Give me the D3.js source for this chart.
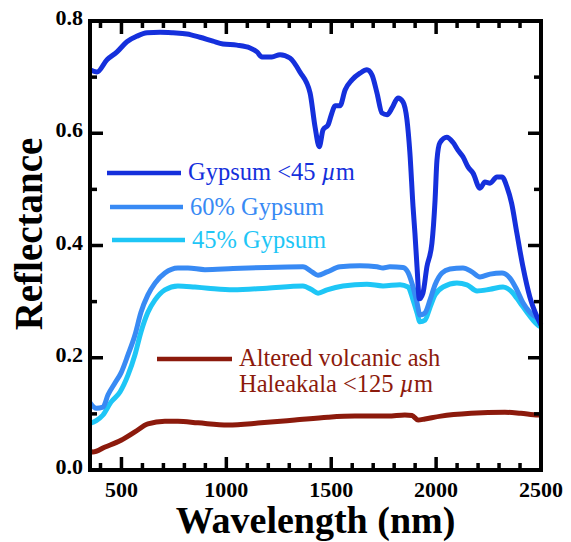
<!DOCTYPE html>
<html>
<head>
<meta charset="utf-8">
<script src="https://cdn.jsdelivr.net/npm/d3@7"></script>
<style>
  body { margin: 0; background: #fff; }
  svg { display: block; }
  text { font-family: "Liberation Serif", "Times New Roman", serif; }
</style>
</head>
<body>
<div id="chart"></div>
<script>
// Reflectance spectra (wavelength in nm)
const gypsumWl = [350, 383, 431, 479, 526, 574, 622, 684, 746, 812, 874, 936, 984, 1050, 1113, 1146, 1170, 1217, 1256, 1303, 1351, 1399, 1423, 1443, 1461, 1485, 1503, 1518, 1542, 1566, 1599, 1637, 1670, 1694, 1718, 1742, 1766, 1790, 1818, 1842, 1861, 1875, 1890, 1899, 1909, 1920, 1937, 1956, 1980, 1995, 2004, 2018, 2051, 2080, 2104, 2128, 2152, 2176, 2209, 2233, 2257, 2290, 2314, 2338, 2360, 2385, 2414, 2447, 2481, 2500];
const gypsumR = [0.713, 0.709, 0.731, 0.745, 0.763, 0.773, 0.779, 0.780, 0.779, 0.777, 0.771, 0.764, 0.759, 0.757, 0.752, 0.745, 0.736, 0.736, 0.740, 0.734, 0.709, 0.672, 0.611, 0.576, 0.606, 0.615, 0.636, 0.649, 0.649, 0.677, 0.695, 0.707, 0.713, 0.704, 0.672, 0.636, 0.633, 0.645, 0.663, 0.656, 0.624, 0.565, 0.469, 0.422, 0.362, 0.305, 0.315, 0.362, 0.404, 0.481, 0.552, 0.583, 0.593, 0.584, 0.570, 0.558, 0.540, 0.529, 0.502, 0.513, 0.511, 0.522, 0.522, 0.504, 0.475, 0.422, 0.362, 0.308, 0.273, 0.258];

const g60Wl = [350, 380, 412, 436, 469, 498, 531, 564, 593, 626, 660, 707, 769, 817, 898, 1032, 1193, 1365, 1408, 1437, 1480, 1542, 1637, 1718, 1747, 1780, 1842, 1866, 1890, 1909, 1923, 1947, 1971, 1995, 2028, 2066, 2128, 2171, 2209, 2257, 2314, 2352, 2385, 2414, 2447, 2481, 2500];
const g60R = [0.120, 0.110, 0.112, 0.134, 0.155, 0.173, 0.205, 0.240, 0.281, 0.312, 0.333, 0.351, 0.360, 0.360, 0.357, 0.359, 0.361, 0.362, 0.353, 0.347, 0.353, 0.362, 0.364, 0.362, 0.360, 0.362, 0.361, 0.352, 0.326, 0.298, 0.276, 0.280, 0.303, 0.330, 0.351, 0.358, 0.360, 0.353, 0.344, 0.349, 0.351, 0.342, 0.321, 0.298, 0.281, 0.271, 0.265];

const g45Wl = [350, 380, 412, 450, 493, 531, 564, 593, 626, 660, 707, 769, 850, 912, 1032, 1193, 1365, 1408, 1437, 1480, 1556, 1670, 1747, 1828, 1866, 1890, 1909, 1923, 1947, 1971, 1995, 2033, 2099, 2147, 2195, 2257, 2319, 2362, 2400, 2433, 2462, 2486, 2500];
const g45R = [0.083, 0.088, 0.098, 0.121, 0.139, 0.169, 0.205, 0.246, 0.281, 0.303, 0.321, 0.328, 0.326, 0.324, 0.321, 0.324, 0.328, 0.321, 0.315, 0.321, 0.328, 0.331, 0.328, 0.330, 0.326, 0.303, 0.280, 0.264, 0.267, 0.290, 0.312, 0.326, 0.333, 0.330, 0.319, 0.322, 0.326, 0.317, 0.298, 0.281, 0.267, 0.258, 0.255];

const ashWl = [350, 364, 422, 498, 564, 626, 707, 769, 865, 1008, 1165, 1327, 1484, 1613, 1771, 1851, 1885, 1914, 1947, 2023, 2166, 2328, 2404, 2486, 2500];
const ashR = [0.033, 0.032, 0.041, 0.053, 0.068, 0.082, 0.087, 0.087, 0.084, 0.080, 0.084, 0.089, 0.094, 0.096, 0.096, 0.098, 0.097, 0.089, 0.091, 0.096, 0.101, 0.103, 0.101, 0.098, 0.098];

const xMajorTicks = [500, 1000, 1500, 2000, 2500];
const xMinorTicks = [400, 600, 700, 800, 900, 1100, 1200, 1300, 1400, 1600, 1700, 1800, 1900, 2100, 2200, 2300, 2400];
const yMajorTicks = [0.0, 0.2, 0.4, 0.6, 0.8];
const yMinorTicks = [0.1, 0.3, 0.5, 0.7];

const seriesNames = ['Gypsum <45 \u00b5m', '60% Gypsum', '45% Gypsum', 'Altered volcanic ash'];

const width = 571, height = 542;
const plot = { left: 90, right: 541, top: 21, bottom: 470 };

const svg = d3.select('#chart').append('svg')
    .attr('width', width)
    .attr('height', height);

const x = d3.scaleLinear().domain([350, 2500]).range([plot.left, plot.right]);
const y = d3.scaleLinear().domain([0, 0.8]).range([plot.bottom, plot.top]);

const series = [
    { wl: gypsumWl, r: gypsumR, color: '#1530dc' },
    { wl: g60Wl, r: g60R, color: '#388af4' },
    { wl: g45Wl, r: g45R, color: '#1ec6f6' },
    { wl: ashWl, r: ashR, color: '#8c1a0c' }
];

const curve = d3.line()
    .x(d => x(d[0]))
    .y(d => y(d[1]))
    .curve(d3.curveMonotoneX);

// draw lower curves first so the gypsum curve sits on top
[3, 2, 1, 0].forEach(i => {
    const s = series[i];
    svg.append('path')
        .datum(s.wl.map((w, j) => [w, s.r[j]]))
        .attr('fill', 'none')
        .attr('stroke', s.color)
        .attr('stroke-width', 5)
        .attr('stroke-linejoin', 'round')
        .attr('d', curve);
});

// tick labels
svg.append('g').selectAll('text')
    .data(xMajorTicks)
    .join('text')
    .attr('x', d => x(d))
    .attr('y', 497)
    .attr('text-anchor', 'middle')
    .style('font-size', '22px')
    .style('font-weight', 'bold')
    .text(d3.format('d'));

svg.append('g').selectAll('text')
    .data(yMajorTicks)
    .join('text')
    .attr('x', plot.left - 7)
    .attr('y', d => y(d) + 4)
    .attr('text-anchor', 'end')
    .style('font-size', '22px')
    .style('font-weight', 'bold')
    .text(d3.format('.1f'));

// axis titles
svg.append('text')
    .attr('x', (plot.left + plot.right) / 2)
    .attr('y', 533)
    .attr('text-anchor', 'middle')
    .style('font-size', '38px')
    .style('font-weight', 'bold')
    .text('Wavelength (nm)');

svg.append('text')
    .attr('transform', 'translate(42,234) rotate(-90)')
    .attr('text-anchor', 'middle')
    .style('font-size', '39px')
    .style('font-weight', 'bold')
    .text('Reflectance');

// legend
const legendRows = [
    { i: 0, x1: 107, x2: 181, y: 173, tx: 188, ty: 180 },
    { i: 1, x1: 110, x2: 183, y: 207, tx: 190, ty: 215 },
    { i: 2, x1: 112, x2: 185, y: 240, tx: 192, ty: 248 },
    { i: 3, x1: 157, x2: 232, y: 359, tx: 239, ty: 366 }
];

legendRows.forEach(r => {
    const s = series[r.i];
    svg.append('line')
        .attr('x1', r.x1).attr('x2', r.x2)
        .attr('y1', r.y).attr('y2', r.y)
        .attr('stroke', s.color)
        .attr('stroke-width', 4.5);
    const t = svg.append('text')
        .attr('x', r.tx)
        .attr('y', r.ty)
        .attr('fill', s.color)
        .style('font-size', '24.5px');
    if (r.i === 0) {
        t.append('tspan').text('Gypsum <45 ');
        t.append('tspan').style('font-style', 'italic').text('\u00b5');
        t.append('tspan').text('m');
    } else {
        t.text(seriesNames[r.i]);
    }
});

const ashLabel2 = svg.append('text')
    .attr('x', 239)
    .attr('y', 392)
    .attr('fill', series[3].color)
    .style('font-size', '24.5px');
ashLabel2.append('tspan').text('Haleakala <125 ');
ashLabel2.append('tspan').style('font-style', 'italic').text('\u00b5');
ashLabel2.append('tspan').text('m');

// frame
svg.append('rect')
    .attr('x', plot.left)
    .attr('y', plot.top)
    .attr('width', plot.right - plot.left)
    .attr('height', plot.bottom - plot.top)
    .attr('fill', 'none')
    .attr('stroke', '#000')
    .attr('stroke-width', 4);

// inward ticks on all four sides, as filled bars
const tickW = 3.5;
function xTicks(values, len) {
    svg.append('g').selectAll('rect')
        .data(values)
        .join('rect')
        .attr('x', d => x(d) - tickW / 2)
        .attr('y', plot.bottom - len)
        .attr('width', tickW)
        .attr('height', len)
        .attr('fill', '#000');
    svg.append('g').selectAll('rect')
        .data(values)
        .join('rect')
        .attr('x', d => x(d) - tickW / 2)
        .attr('y', plot.top)
        .attr('width', tickW)
        .attr('height', len)
        .attr('fill', '#000');
}
function yTicks(values, len) {
    svg.append('g').selectAll('rect')
        .data(values)
        .join('rect')
        .attr('x', plot.left)
        .attr('y', d => y(d) - tickW / 2)
        .attr('width', len)
        .attr('height', tickW)
        .attr('fill', '#000');
    svg.append('g').selectAll('rect')
        .data(values)
        .join('rect')
        .attr('x', plot.right - len)
        .attr('y', d => y(d) - tickW / 2)
        .attr('width', len)
        .attr('height', tickW)
        .attr('fill', '#000');
}
xTicks(xMajorTicks, 13);
xTicks(xMinorTicks, 7);
yTicks(yMajorTicks, 13);
yTicks(yMinorTicks, 7);
</script>
</body>
</html>
